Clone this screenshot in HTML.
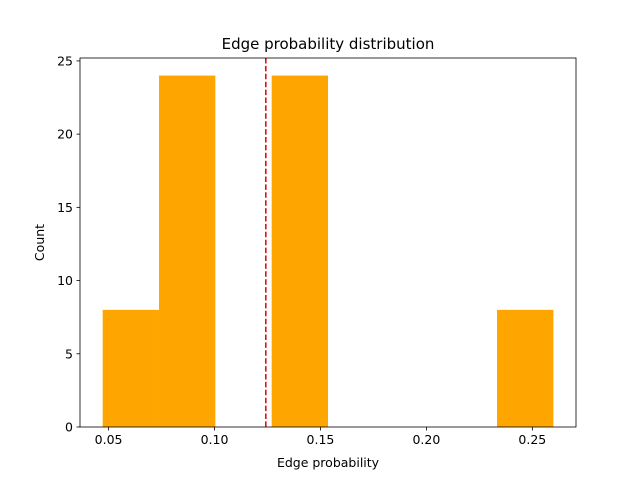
<!DOCTYPE html>
<html><head><meta charset="utf-8"><style>body{margin:0;background:#fff}svg{display:block;font-family:"DejaVu Sans","Liberation Sans",sans-serif}</style></head>
<body>
<svg id="chart" width="640" height="480">
<rect width="640" height="480" fill="#fff"/>
<g id="bars"></g>
<g id="axes"></g>
</svg>
<script>
const binEdgeStart = 0.0472;
const binWidth = 0.02659;
const counts = [8, 24, 0, 24, 0, 0, 0, 8];
const xTicks = [0.05, 0.10, 0.15, 0.20, 0.25];
const xTickLabels = ["0.05", "0.10", "0.15", "0.20", "0.25"];
const yTicks = [0, 5, 10, 15, 20, 25];
const meanValue = 0.1242;

const L=80,R=576,T=58,B=427;
const xMin=0.0365,xMax=0.2706,yMin=0,yMax=25.2;
const sx=v=>L+(v-xMin)/(xMax-xMin)*(R-L);
const sy=v=>B-(v-yMin)/(yMax-yMin)*(B-T);
const NS="http://www.w3.org/2000/svg";
function mk(tag,attrs,parent,text){const e=document.createElementNS(NS,tag);for(const k in attrs)e.setAttribute(k,attrs[k]);if(text!==undefined)e.textContent=text;parent.appendChild(e);return e;}
const bars=document.getElementById('bars'),axes=document.getElementById('axes');
counts.forEach((c,i)=>{if(!c)return;const x0=sx(binEdgeStart+i*binWidth),x1=sx(binEdgeStart+(i+1)*binWidth);
const r=mk('rect',{x:x0,y:sy(c),width:x1-x0,height:sy(0)-sy(c),fill:'#ffa500'},bars);

});
const ml=mk('line',{x1:sx(meanValue),x2:sx(meanValue),y1:T,y2:B,stroke:'#e00000','stroke-width':1.5,'stroke-dasharray':'5.5,2.4'},axes);


const fr=mk('rect',{x:L,y:T,width:R-L,height:B-T,fill:'none',stroke:'#000','stroke-width':0.8},axes);


xTicks.forEach((v,i)=>{const x=sx(v);mk('line',{x1:x,x2:x,y1:B,y2:B+3.5,stroke:'#000','stroke-width':0.8},axes);
const t=mk('text',{x:x,y:B+17,'text-anchor':'middle','font-size':12.5,fill:'#000'},axes,xTickLabels[i]);

});
yTicks.forEach(v=>{const y=sy(v);mk('line',{x1:L-3.5,x2:L,y1:y,y2:y,stroke:'#000','stroke-width':0.8},axes);
const t=mk('text',{x:L-7,y:y+4.5,'text-anchor':'end','font-size':12.5,fill:'#000'},axes,String(v));

});
const xt=mk('text',{x:(L+R)/2,y:467,'text-anchor':'middle','font-size':12.5,fill:'#000'},axes,'Edge probability');


const yt=mk('text',{x:44,y:(T+B)/2,'text-anchor':'middle','font-size':12.5,fill:'#000',transform:'rotate(-90 44 '+((T+B)/2)+')'},axes,'Count');


const tt=mk('text',{x:(L+R)/2,y:49,'text-anchor':'middle','font-size':15,fill:'#000'},axes,'Edge probability distribution');


</script>
</body></html>
